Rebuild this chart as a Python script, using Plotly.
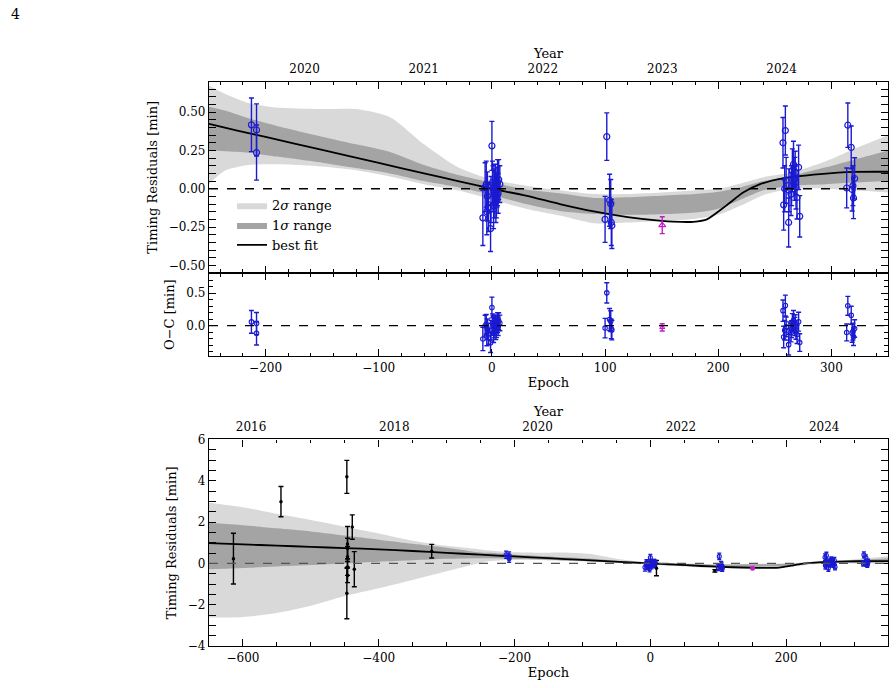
import plotly.graph_objects as go

# ---------------- data ----------------
# best-fit model curve (epoch, residual in min)
fit_epoch = [-650, -600, -550, -500, -450, -400, -350, -300, -250, -225, -200, -150, -100, -60, -30, 0,
             30, 60, 90, 120, 150, 160, 178, 190, 207, 222, 237, 258, 290, 320, 350]
fit_value = [0.98, 0.92, 0.86, 0.80, 0.74, 0.68, 0.60, 0.51, 0.423, 0.38, 0.338, 0.254, 0.169, 0.10, 0.05, 0.0,
             -0.045, -0.10, -0.148, -0.185, -0.21, -0.215, -0.216, -0.20, -0.11, -0.025, 0.03, 0.07, 0.096, 0.11, 0.111]

# confidence bands
band_epoch = [-650, -600, -550, -500, -450, -400, -350, -300, -254, -236, -215, -190, -150, -120, -90, -60, -30, 0,
              30, 60, 90, 120, 150, 180, 200, 220, 240, 265, 295, 320, 350]
sig2_hi = [2.94, 2.72, 2.40, 2.10, 1.78, 1.45, 1.10, 0.85, 0.69, 0.62, 0.56, 0.53, 0.52, 0.52, 0.467, 0.29, 0.14, 0.06,
           0.02, -0.01, -0.035, -0.035, -0.025, -0.01, 0.0, 0.035, 0.075, 0.107, 0.18, 0.26, 0.35]
sig2_lo = [-2.62, -2.59, -2.40, -2.05, -1.58, -1.20, -0.80, -0.38, 0.0, 0.118, 0.155, 0.16, 0.145, 0.12, 0.08, 0.03, -0.01, -0.07,
           -0.13, -0.175, -0.225, -0.22, -0.21, -0.195, -0.17, -0.11, -0.04, 0.0, 0.0, -0.01, -0.025]
sig1_hi = [1.97, 1.85, 1.70, 1.55, 1.35, 1.15, 0.95, 0.76, 0.545, 0.51, 0.46, 0.41, 0.34, 0.29, 0.24, 0.155, 0.09, 0.04,
           -0.005, -0.03, -0.06, -0.055, -0.045, -0.035, -0.02, 0.01, 0.05, 0.085, 0.14, 0.19, 0.25]
sig1_lo = [-0.28, -0.22, -0.15, -0.08, 0.0, 0.08, 0.15, 0.22, 0.25, 0.245, 0.235, 0.21, 0.17, 0.135, 0.10, 0.05, 0.01, -0.04,
           -0.10, -0.145, -0.165, -0.17, -0.166, -0.155, -0.13, -0.07, -0.01, 0.02, 0.03, 0.04, 0.05]

# new timing residuals (blue)
res_epoch = [-212.5, -208, -208,
             -8, -6, -5, -4.5, -4, -3, -1.2, -0.8, 0, 0.5, 1, 1.5, 2, 2.5, 3, 3.5, 4, 4.5, 5, 5.5, 6, 7,
             100, 101.5, 104, 105, 105.5, 106,
             257.2, 257.8, 258.7, 259.3, 260.0, 262.2, 262.5, 264.3, 264.8, 265.5, 266.5, 267.7, 268.0, 268.7, 269.6, 271.0, 272.0,
             313.5, 314.5, 317.5, 318.3, 319.0, 319.5, 320.5]
res_value = [0.417, 0.384, 0.236,
             -0.19, 0.01, 0.03, -0.15, -0.05, -0.12, -0.26, -0.07, 0.28, 0.04, 0.0, -0.11, -0.03, -0.01, 0.03, -0.08, -0.05, 0.01, 0.04, -0.03, 0.06, 0.03,
             -0.20, 0.34, -0.075, -0.10, -0.22, -0.24,
             0.30, -0.105, 0.0, 0.38, 0.055, -0.22, -0.01, -0.035, 0.02, 0.12, 0.16, 0.065, 0.105, 0.008, -0.057, 0.14, -0.18,
             0.005, 0.415, 0.27, -0.005, 0.02, -0.06, 0.067]
res_error = [0.175, 0.17, 0.18,
             0.18, 0.16, 0.15, 0.15, 0.16, 0.16, 0.15, 0.15, 0.16, 0.14, 0.15, 0.15, 0.16, 0.12, 0.13, 0.14, 0.14, 0.13, 0.15, 0.13, 0.13, 0.12,
             0.15, 0.155, 0.17, 0.16, 0.15, 0.15,
             0.165, 0.165, 0.15, 0.16, 0.15, 0.16, 0.14, 0.14, 0.13, 0.14, 0.15, 0.14, 0.14, 0.14, 0.14, 0.145, 0.135,
             0.13, 0.145, 0.14, 0.14, 0.13, 0.135, 0.135]
oc_value = [0.058, 0.032, -0.116,
            -0.204, 0.0, 0.022, -0.158, -0.057, -0.125, -0.262, -0.071, 0.28, 0.041, 0.002, -0.108, -0.027, -0.006, 0.035, -0.074, -0.043, 0.018, 0.048, -0.021, 0.07, 0.042,
            -0.037, 0.505, 0.094, 0.07, -0.049, -0.068,
            0.231, -0.174, -0.07, 0.31, -0.016, -0.292, -0.082, -0.109, -0.054, 0.045, 0.084, -0.012, 0.028, -0.069, -0.135, 0.061, -0.26,
            -0.104, 0.306, 0.16, -0.115, -0.09, -0.17, -0.043]

# single magenta point
mag_epoch = [150.5]
mag_value = [-0.238]
mag_error = [0.055]
mag_oc = [-0.026]

# literature timings (black, lower panel)
old_epoch = [-614, -544, -447, -447, -446, -446, -446, -446, -446, -439, -436, -322, 9, 95]
old_value = [0.23, 2.99, 4.19, -1.45, 0.94, 0.72, 0.32, -0.18, -0.58, 1.76, -0.28, 0.59, -0.23, -0.36]
old_error = [1.23, 0.73, 0.80, 1.23, 0.85, 0.50, 0.50, 0.40, 0.35, 0.59, 0.85, 0.33, 0.37, 0.06]

# year axis labels
year_top_epoch = [-165.6, -60.3, 45.0, 150.6, 256.0]
year_top_text = ["2020", "2021", "2022", "2023", "2024"]
year_bot_epoch = [-588, -377, -166, 45, 256]
year_bot_text = ["2016", "2018", "2020", "2022", "2024"]

# ---------------- styling ----------------
FONT = "DejaVu Serif"
LIGHT = "#d9d9d9"
DARK = "#a4a4a4"
BLUE = "#1a1ad2"
MAG = "#c21fc8"

W, H = 896, 688


def fy(py):
    return 1 - py / H


def vpos(t):
    # vertical placement correction for the page capture
    return fy((t - 6.7) / 0.977)


X_DOM = [209 / W, 888 / W]
Y1 = [vpos(272), vpos(81)]
Y2 = [vpos(355), vpos(272)]
Y3 = [vpos(644), vpos(438)]

fig = go.Figure()


def add_model(xa, ya, show):
    ln = dict(width=0, shape="spline", smoothing=0.7)
    fig.add_trace(go.Scatter(x=band_epoch, y=sig2_lo, mode="lines", line=ln, xaxis=xa, yaxis=ya,
                             showlegend=False, hoverinfo="skip"))
    fig.add_trace(go.Scatter(x=band_epoch, y=sig2_hi, mode="lines", line=ln, fill="tonexty", fillcolor=LIGHT,
                             name="2<i>σ</i> range", showlegend=show, xaxis=xa, yaxis=ya, hoverinfo="skip"))
    fig.add_trace(go.Scatter(x=band_epoch, y=sig1_lo, mode="lines", line=ln, xaxis=xa, yaxis=ya,
                             showlegend=False, hoverinfo="skip"))
    fig.add_trace(go.Scatter(x=band_epoch, y=sig1_hi, mode="lines", line=ln, fill="tonexty", fillcolor=DARK,
                             name="1<i>σ</i> range", showlegend=show, xaxis=xa, yaxis=ya, hoverinfo="skip"))
    fig.add_trace(go.Scatter(x=fit_epoch, y=fit_value, mode="lines",
                             line=dict(color="black", width=1.8, shape="spline", smoothing=0.6),
                             name="best fit", showlegend=show, xaxis=xa, yaxis=ya))


# ---- panel 1: residuals
add_model("x", "y", True)
fig.add_trace(go.Scatter(x=res_epoch, y=res_value, mode="markers", xaxis="x", yaxis="y", showlegend=False,
                         marker=dict(symbol="circle-open", size=6, color=BLUE, line=dict(width=1.2, color=BLUE)),
                         error_y=dict(type="data", array=res_error, color=BLUE, thickness=1.4, width=2.5)))
fig.add_trace(go.Scatter(x=mag_epoch, y=mag_value, mode="markers", xaxis="x", yaxis="y", showlegend=False,
                         marker=dict(symbol="triangle-up-open", size=6, color=MAG, line=dict(width=1.2, color=MAG)),
                         error_y=dict(type="data", array=mag_error, color=MAG, thickness=1.4, width=2.5)))
# carrier for the calendar-year axis on top
fig.add_trace(go.Scatter(x=year_top_epoch, y=[None] * len(year_top_epoch), mode="markers", xaxis="x4", yaxis="y",
                         showlegend=False, hoverinfo="skip"))

# ---- panel 2: O-C
fig.add_trace(go.Scatter(x=res_epoch, y=oc_value, mode="markers", xaxis="x2", yaxis="y2", showlegend=False,
                         marker=dict(symbol="circle-open", size=4.5, color=BLUE, line=dict(width=1.1, color=BLUE)),
                         error_y=dict(type="data", array=res_error, color=BLUE, thickness=1.4, width=2.5)))
fig.add_trace(go.Scatter(x=mag_epoch, y=mag_oc, mode="markers", xaxis="x2", yaxis="y2", showlegend=False,
                         marker=dict(symbol="triangle-up-open", size=4.5, color=MAG, line=dict(width=1.1, color=MAG)),
                         error_y=dict(type="data", array=mag_error, color=MAG, thickness=1.4, width=2.5)))

# ---- panel 3: full baseline
add_model("x3", "y3", False)
fig.add_trace(go.Scatter(x=old_epoch, y=old_value, mode="markers", xaxis="x3", yaxis="y3", showlegend=False,
                         marker=dict(symbol="circle", size=3.5, color="black"),
                         error_y=dict(type="data", array=old_error, color="black", thickness=1.4, width=2.5)))
fig.add_trace(go.Scatter(x=res_epoch, y=res_value, mode="markers", xaxis="x3", yaxis="y3", showlegend=False,
                         marker=dict(symbol="circle-open", size=4, color=BLUE, line=dict(width=1.1, color=BLUE)),
                         error_y=dict(type="data", array=res_error, color=BLUE, thickness=1.3, width=2)))
fig.add_trace(go.Scatter(x=mag_epoch, y=mag_value, mode="markers", xaxis="x3", yaxis="y3", showlegend=False,
                         marker=dict(symbol="circle", size=5, color=MAG),
                         error_y=dict(type="data", array=mag_error, color=MAG, thickness=1.2, width=1.5)))
fig.add_trace(go.Scatter(x=year_bot_epoch, y=[None] * len(year_bot_epoch), mode="markers", xaxis="x5", yaxis="y3",
                         showlegend=False, hoverinfo="skip"))

# zero reference lines
for ya, xa, col in (("y", "x", "black"), ("y2", "x2", "black"), ("y3", "x3", "#555555")):
    fig.add_shape(type="line", xref=f"{xa} domain", yref=ya, x0=0, x1=1, y0=0, y1=0,
                  line=dict(color=col, width=1.3, dash="dash"), layer="above")

tick_font = dict(family=FONT, size=12, color="black")
title_font = dict(family=FONT, size=13, color="black")


def ax(**kw):
    base = dict(showline=True, linecolor="black", linewidth=1.3, mirror="allticks", ticks="inside",
                ticklen=7, tickwidth=1, tickcolor="black", showgrid=False, zeroline=False,
                tickfont=tick_font)
    base.update(kw)
    return base


def minor(d):
    return dict(dtick=d, ticks="inside", ticklen=3.5, tickwidth=1, tickcolor="black", showgrid=False)


def year_ax(over, anchor, rng, vals, text):
    return dict(overlaying=over, side="top", anchor=anchor, range=rng, tickvals=vals, ticktext=text,
                ticks="", showline=False, showgrid=False, zeroline=False, tickfont=tick_font,
                ticklabelstandoff=5, title=dict(text="Year", font=title_font, standoff=0))


fig.update_layout(
    width=W, height=H,
    margin=dict(l=0, r=0, t=0, b=0),
    paper_bgcolor="white", plot_bgcolor="white",
    font=dict(family=FONT, size=12, color="black"),
    showlegend=True,
    legend=dict(x=232 / W, y=fy(187), xanchor="left", yanchor="top", bgcolor="rgba(0,0,0,0)",
                font=dict(family=FONT, size=13, color="black"), traceorder="normal",
                itemwidth=30, tracegroupgap=0),
    xaxis=ax(domain=X_DOM, anchor="y", range=[-250, 350], dtick=100, tick0=0, minor=minor(20),
             showticklabels=False),
    yaxis=ax(domain=Y1, anchor="x", range=[-0.55, 0.70], dtick=0.25, tick0=0, tickformat=".2f",
             minor=minor(0.05), title=dict(text="Timing Residuals [min]", font=title_font, standoff=8)),
    xaxis2=ax(domain=X_DOM, anchor="y2", range=[-250, 350], dtick=100, tick0=0, minor=minor(20),
              title=dict(text="Epoch", font=title_font, standoff=4)),
    yaxis2=ax(domain=Y2, anchor="x2", range=[-0.47, 0.81], dtick=0.5, tick0=0, tickformat=".1f",
              minor=minor(0.1), title=dict(text="O−C [min]", font=title_font, standoff=8)),
    xaxis4=year_ax("x", "y", [-250, 350], year_top_epoch, year_top_text),
    xaxis3=ax(domain=X_DOM, anchor="y3", range=[-650, 350], dtick=200, tick0=0, minor=minor(50),
              title=dict(text="Epoch", font=title_font, standoff=4)),
    yaxis3=ax(domain=Y3, anchor="x3", range=[-4, 6], dtick=2, tick0=0, minor=minor(0.5),
              title=dict(text="Timing Residuals [min]", font=title_font, standoff=8)),
    xaxis5=year_ax("x3", "y3", [-650, 350], year_bot_epoch, year_bot_text),
)

fig.add_annotation(text="4", xref="paper", yref="paper", x=9 / W, y=fy(-3), xanchor="left", yanchor="top",
                   showarrow=False, font=dict(family=FONT, size=14, color="black"))

fig.write_html("out.html")
